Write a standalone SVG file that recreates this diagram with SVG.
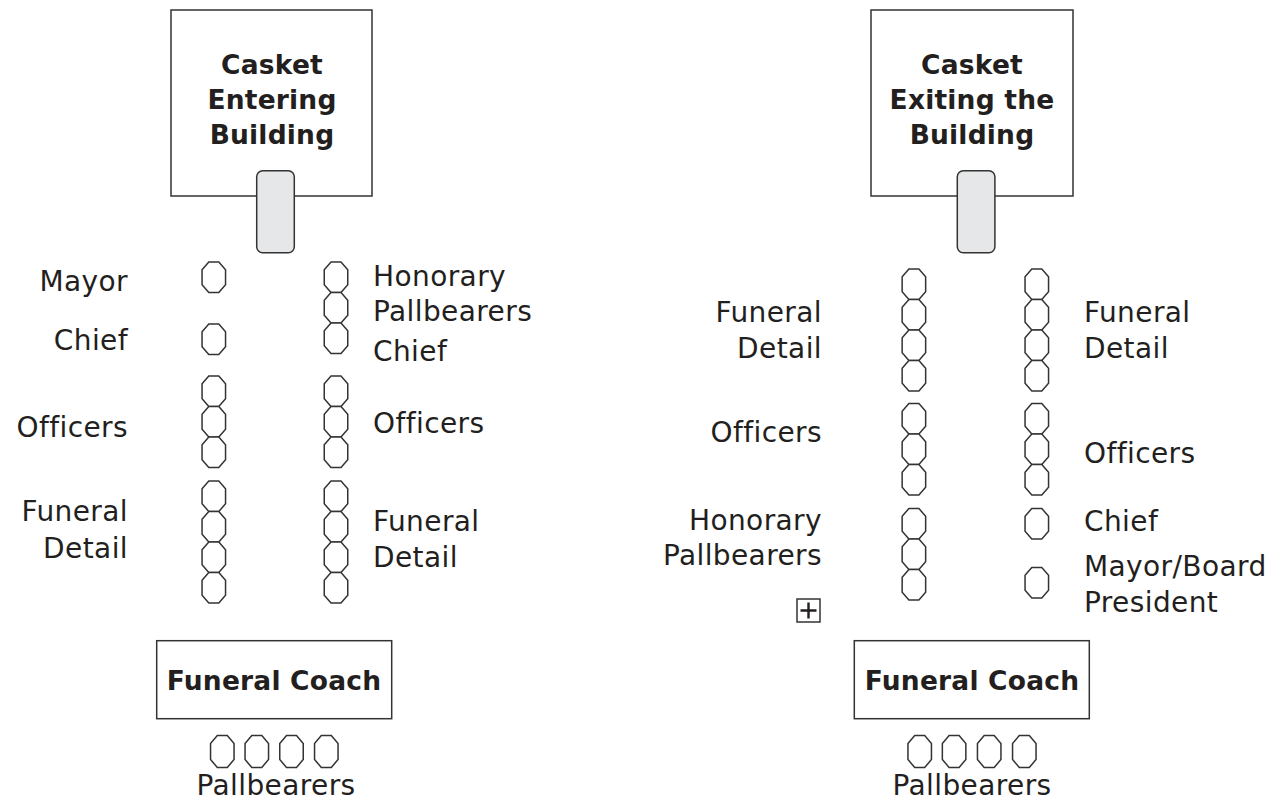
<svg xmlns="http://www.w3.org/2000/svg" xmlns:xlink="http://www.w3.org/1999/xlink" width="1283" height="803" viewBox="0 0 1283 803">
<style>
.box{fill:#fff;stroke:#333;stroke-width:1.5}
.casket{fill:#e6e7e8;stroke:#333;stroke-width:1.5}
.lbl{font-family:"DejaVu Sans","Liberation Sans",sans-serif;font-size:28px;letter-spacing:0.4px;fill:#231f20}
.ttl{font-family:"DejaVu Sans","Liberation Sans",sans-serif;font-size:26.5px;font-weight:bold;letter-spacing:0.2px;fill:#231f20}
.r{text-anchor:end}
.c{text-anchor:middle}
</style>
<defs>
<polygon id="oct" points="-5,-15.25 5,-15.25 11.75,-7.5 11.75,7.5 5,15.25 -5,15.25 -11.75,7.5 -11.75,-7.5" fill="#fff" stroke="#333" stroke-width="1.5"/>
<polygon id="oct2" points="-5,-16 5,-16 11.75,-8 11.75,8 5,16 -5,16 -11.75,8 -11.75,-8" fill="#fff" stroke="#333" stroke-width="1.5"/>
</defs>
<rect width="1283" height="803" fill="#fff"/>
<g id="connectors"/>

<!-- LEFT PANEL -->
<g id="building-enter">
<rect class="box" x="171" y="10" width="201" height="186"/>
<text class="ttl c" x="272" y="74">Casket</text>
<text class="ttl c" x="272" y="109">Entering</text>
<text class="ttl c" x="272" y="144">Building</text>
</g>
<g id="casket-enter"><rect class="casket" x="256.7" y="170.7" width="37.6" height="82" rx="6"/></g>

<g id="mayor-left">
<use xlink:href="#oct" x="213.8" y="277.25"/>
<text class="lbl r" x="128" y="291">Mayor</text>
</g>
<g id="chief-left">
<use xlink:href="#oct" x="213.8" y="339.25"/>
<text class="lbl r" x="128" y="350">Chief</text>
</g>
<g id="officers-left-a">
<use xlink:href="#oct" x="213.8" y="391.25"/>
<use xlink:href="#oct" x="213.8" y="421.75"/>
<use xlink:href="#oct" x="213.8" y="452.25"/>
<text class="lbl r" x="128" y="437">Officers</text>
</g>
<g id="funeral-detail-left-a">
<use xlink:href="#oct" x="213.8" y="496.25"/>
<use xlink:href="#oct" x="213.8" y="526.75"/>
<use xlink:href="#oct" x="213.8" y="557.25"/>
<use xlink:href="#oct" x="213.8" y="587.75"/>
<text class="lbl r" x="128" y="521">Funeral</text>
<text class="lbl r" x="128" y="558">Detail</text>
</g>
<g id="honorary-right-a">
<use xlink:href="#oct" x="336" y="277.25"/>
<use xlink:href="#oct" x="336" y="307.75"/>
<use xlink:href="#oct" x="336" y="338.25"/>
<text class="lbl" x="373" y="286">Honorary</text>
<text class="lbl" x="373" y="321">Pallbearers</text>
</g>
<g id="chief-right-a">
<text class="lbl" x="373" y="361">Chief</text>
</g>
<g id="officers-right-a">
<use xlink:href="#oct" x="336" y="391.25"/>
<use xlink:href="#oct" x="336" y="421.75"/>
<use xlink:href="#oct" x="336" y="452.25"/>
<text class="lbl" x="373" y="433">Officers</text>
</g>
<g id="funeral-detail-right-a">
<use xlink:href="#oct" x="336" y="496.25"/>
<use xlink:href="#oct" x="336" y="526.75"/>
<use xlink:href="#oct" x="336" y="557.25"/>
<use xlink:href="#oct" x="336" y="587.75"/>
<text class="lbl" x="373" y="531">Funeral</text>
<text class="lbl" x="373" y="567">Detail</text>
</g>
<g id="coach-a">
<rect class="box" x="156.7" y="640.7" width="235" height="78"/>
<text class="ttl c" x="274" y="690">Funeral Coach</text>
</g>
<g id="pallbearers-a">
<use xlink:href="#oct2" x="222.3" y="751.5"/>
<use xlink:href="#oct2" x="256.8" y="751.5"/>
<use xlink:href="#oct2" x="291.5" y="751.5"/>
<use xlink:href="#oct2" x="326.3" y="751.5"/>
<text class="lbl c" x="276" y="795">Pallbearers</text>
</g>

<!-- RIGHT PANEL -->
<g id="building-exit">
<rect class="box" x="871" y="10" width="202" height="186"/>
<text class="ttl c" x="972" y="74">Casket</text>
<text class="ttl c" x="972" y="109">Exiting the</text>
<text class="ttl c" x="972" y="144">Building</text>
</g>
<g id="casket-exit"><rect class="casket" x="957.3" y="170.7" width="37.6" height="82" rx="6"/></g>

<g id="funeral-detail-left-b">
<use xlink:href="#oct" x="913.9" y="284.25"/>
<use xlink:href="#oct" x="913.9" y="314.75"/>
<use xlink:href="#oct" x="913.9" y="345.25"/>
<use xlink:href="#oct" x="913.9" y="375.75"/>
<text class="lbl r" x="822" y="322">Funeral</text>
<text class="lbl r" x="822" y="358">Detail</text>
</g>
<g id="officers-left-b">
<use xlink:href="#oct" x="913.9" y="418.75"/>
<use xlink:href="#oct" x="913.9" y="449.25"/>
<use xlink:href="#oct" x="913.9" y="479.75"/>
<text class="lbl r" x="822" y="442">Officers</text>
</g>
<g id="honorary-left-b">
<use xlink:href="#oct" x="913.9" y="523.75"/>
<use xlink:href="#oct" x="913.9" y="554.25"/>
<use xlink:href="#oct" x="913.9" y="584.75"/>
<text class="lbl r" x="822" y="530">Honorary</text>
<text class="lbl r" x="822" y="565">Pallbearers</text>
</g>
<g id="plus-marker">
<rect x="797" y="599" width="23" height="23" fill="#fff" stroke="#333" stroke-width="1.5"/>
<path d="M808.5,602.5 V618.5 M800.5,610.5 H816.5" stroke="#231f20" stroke-width="2.4" fill="none"/>
</g>
<g id="funeral-detail-right-b">
<use xlink:href="#oct" x="1036.8" y="284.25"/>
<use xlink:href="#oct" x="1036.8" y="314.75"/>
<use xlink:href="#oct" x="1036.8" y="345.25"/>
<use xlink:href="#oct" x="1036.8" y="375.75"/>
<text class="lbl" x="1084" y="322">Funeral</text>
<text class="lbl" x="1084" y="358">Detail</text>
</g>
<g id="officers-right-b">
<use xlink:href="#oct" x="1036.8" y="418.75"/>
<use xlink:href="#oct" x="1036.8" y="449.25"/>
<use xlink:href="#oct" x="1036.8" y="479.75"/>
<text class="lbl" x="1084" y="463">Officers</text>
</g>
<g id="chief-right-b">
<use xlink:href="#oct" x="1036.8" y="523.75"/>
<text class="lbl" x="1084" y="531">Chief</text>
</g>
<g id="mayor-right-b">
<use xlink:href="#oct" x="1036.8" y="582.75"/>
<text class="lbl" x="1084" y="576">Mayor/Board</text>
<text class="lbl" x="1084" y="612">President</text>
</g>
<g id="coach-b">
<rect class="box" x="854.3" y="640.7" width="235" height="78"/>
<text class="ttl c" x="972" y="690">Funeral Coach</text>
</g>
<g id="pallbearers-b">
<use xlink:href="#oct2" x="919.7" y="751.5"/>
<use xlink:href="#oct2" x="954.1" y="751.5"/>
<use xlink:href="#oct2" x="989.2" y="751.5"/>
<use xlink:href="#oct2" x="1024.3" y="751.5"/>
<text class="lbl c" x="972" y="795">Pallbearers</text>
</g>
</svg>
